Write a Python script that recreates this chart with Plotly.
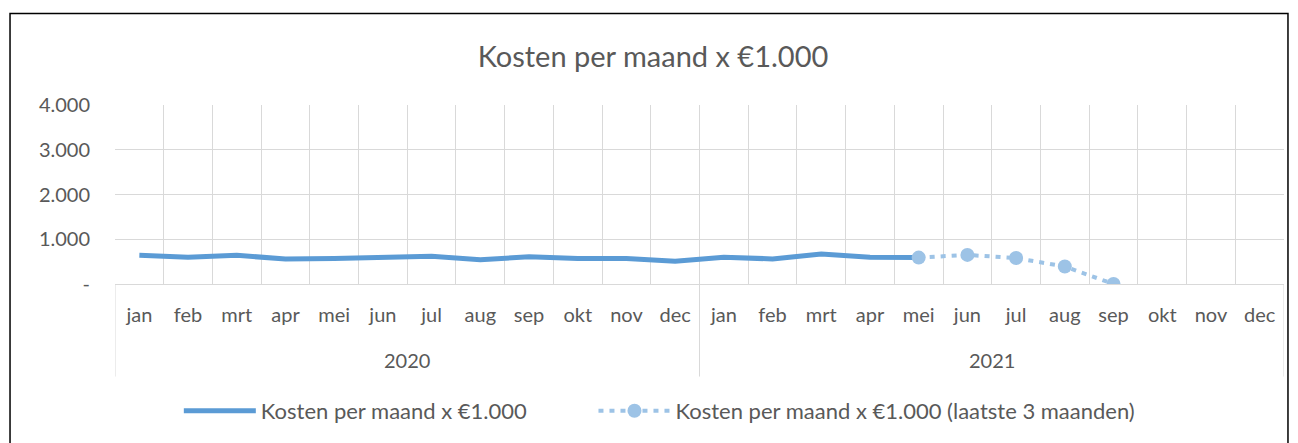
import plotly.graph_objects as go

# data (x €1.000)
months = ["jan", "feb", "mrt", "apr", "mei", "jun", "jul", "aug", "sep", "okt", "nov", "dec"] * 2
years = ["2020", "2021"]
month_idx = list(range(len(months)))

kosten = [640, 600, 640, 560, 570, 600, 620, 540, 610, 570, 570, 510,
          600, 560, 670, 600, 590, None, None, None, None, None, None, None]
laatste = [None] * 16 + [590, 650, 580, 390, 0, None, None, None]

y_ticks = [0, 1000, 2000, 3000, 4000]
y_labels = ["-", "1.000", "2.000", "3.000", "4.000"]

font_main = "Lato, Open Sans, sans-serif"
grey = "#595959"
grid = "#D9D9D9"

fig = go.Figure()

fig.add_trace(go.Scatter(
    x=month_idx,
    y=kosten,
    mode="lines",
    name="Kosten per maand x €1.000",
    line=dict(color="#5B9BD5", width=5),
    legend="legend",
))

fig.add_trace(go.Scatter(
    x=month_idx,
    y=laatste,
    mode="lines+markers",
    name="Kosten per maand x €1.000 (laatste 3 maanden)",
    line=dict(color="#9DC3E6", width=4, dash="5px,6px"),
    marker=dict(color="#9DC3E6", size=14),
    legend="legend2",
))

n = len(months)
boundaries = [i - 0.5 for i in range(n + 1)]

legend_style = dict(orientation="h", yanchor="middle", y=-0.7, xanchor="left",
                    font=dict(size=22, color=grey), itemwidth=72,
                    bgcolor="rgba(0,0,0,0)")

fig.update_layout(
    width=1290,
    height=435,
    margin=dict(l=107, r=14, t=97, b=158),
    paper_bgcolor="white",
    plot_bgcolor="white",
    title=dict(text="Kosten per maand x €1.000", x=0.5, xanchor="center",
               y=0.888, yanchor="middle",
               font=dict(family=font_main, size=29, color=grey)),
    font=dict(family=font_main, size=20, color=grey),
    showlegend=True,
    legend=dict(legend_style, x=0.0546),
    legend2=dict(legend_style, x=0.4093),
    xaxis=dict(
        range=[-0.5, n - 0.5],
        tickvals=month_idx,
        ticktext=months,
        showgrid=False,
        zeroline=False,
        showline=True,
        linecolor=grid,
        tickfont=dict(size=20, color=grey),
        ticklabelstandoff=13,
        minor=dict(tickvals=boundaries, showgrid=True, gridcolor=grid, gridwidth=1),
        automargin=False,
    ),
    yaxis=dict(
        range=[0, 4000],
        tickvals=y_ticks,
        ticktext=y_labels,
        showgrid=True,
        gridcolor=grid,
        gridwidth=1,
        zeroline=False,
        tickfont=dict(size=20, color=grey),
        ticklabelstandoff=24,
        automargin=False,
    ),
)

# year labels and dividers below the month labels
for i, yr in enumerate(years):
    fig.add_annotation(x=i * 12 + 5.5, y=-0.5, xref="x", yref="paper",
                       text=yr, showarrow=False,
                       font=dict(family=font_main, size=20, color=grey))
for b in [-0.5, 11.5, n - 0.5]:
    fig.add_shape(type="line", xref="x", yref="paper", x0=b, x1=b, y0=0, y1=-0.517,
                  line=dict(color=grid, width=1))

# chart frame like the original
fig.add_shape(type="rect", xref="paper", yref="paper",
              x0=-0.0898, x1=1.0034, y0=-1.0, y1=1.511,
              line=dict(color="black", width=1.5))

fig.write_html("out.html")
